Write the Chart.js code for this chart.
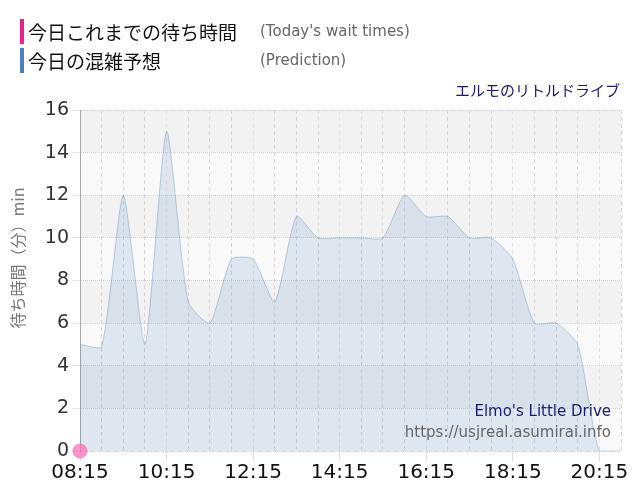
<!DOCTYPE html>
<html>
<head>
<meta charset="utf-8">
<script src="https://cdn.jsdelivr.net/npm/chart.js@4"></script>
<style>
  body { margin: 0; background: #fff; font-family: "Noto Sans CJK JP", "DejaVu Sans", sans-serif; }
  #wrap { position: relative; width: 640px; height: 500px; }
  canvas { position: absolute; left: 0; top: 0; }
  .lg { position: absolute; left: 20px; height: 25px; line-height: 25px; font-size: 19px; color: #111; padding-left: 8px; }
  .lg .bar { position: absolute; left: 0; top: 0; width: 4px; height: 25px; }
  .lg .en { position: absolute; left: 240px; top: 0; font-size: 15px; color: #666; font-family: "DejaVu Sans", sans-serif; white-space: nowrap; }
  .credit { position: absolute; right: 20px; top: 79px; font-size: 15px; color: #1c1c6c; }
</style>
</head>
<body>
<div id="wrap">
  <canvas id="c" width="640" height="500"></canvas>
  <div class="lg" style="top:19px"><span class="bar" style="background:#f01d8c"></span>今日これまでの待ち時間<span class="en">(Today's wait times)</span></div>
  <div class="lg" style="top:48px"><span class="bar" style="background:#4a82b4"></span>今日の混雑予想<span class="en">(Prediction)</span></div>
  <div class="credit">エルモのリトルドライブ</div>
</div>
<script>
// time slots every 30 minutes
var times = ["08:15","08:45","09:15","09:45","10:15","10:45","11:15","11:45","12:15","12:45",
             "13:15","13:45","14:15","14:45","15:15","15:45","16:15","16:45","17:15","17:45",
             "18:15","18:45","19:15","19:45","20:15","20:45"];
var prediction = [5, 4.9, 12, 5, 15, 7, 6, 9, 9, 7,
                  11, 10, 10, 10, 10, 12, 11, 11, 10, 10,
                  9, 6, 6, 5, 0, 0];
var actual = [0];
var yTicks = [0, 2, 4, 6, 8, 10, 12, 14, 16];

var bands = {
  id: "bands",
  beforeDraw: function (chart) {
    var a = chart.chartArea, y = chart.scales.y, ctx = chart.ctx;
    ctx.save();
    for (var i = 0; i < yTicks.length - 1; i++) {
      var top = y.getPixelForValue(yTicks[i + 1]);
      var bot = y.getPixelForValue(yTicks[i]);
      ctx.fillStyle = (i % 2 == 1) ? "#f2f2f2" : "#f9f9f9";
      ctx.fillRect(a.left, top, a.right - a.left, bot - top);
    }
    // y axis title, placed a bit above the middle like the original
    ctx.translate(18, 258);
    ctx.rotate(-Math.PI / 2);
    ctx.textAlign = "center";
    ctx.textBaseline = "middle";
    ctx.fillStyle = "#777";
    ctx.font = "16px 'Noto Sans CJK JP', sans-serif";
    ctx.fillText("待ち時間（分）min", 0, 0);
    ctx.restore();
  },
  afterDatasetsDraw: function (chart) {
    var a = chart.chartArea, ctx = chart.ctx;
    ctx.save();
    ctx.textAlign = "right";
    ctx.font = "15px 'DejaVu Sans', sans-serif";
    ctx.fillStyle = "#1c1c6c";
    ctx.fillText("Elmo's Little Drive", a.right - 10, 416);
    ctx.fillStyle = "#666";
    ctx.fillText("https://usjreal.asumirai.info", a.right - 10, 437);
    ctx.restore();
  }
};

new Chart(document.getElementById("c"), {
  type: "line",
  data: {
    labels: times,
    datasets: [
      {
        label: "今日これまでの待ち時間",
        data: actual,
        borderColor: "rgba(255,105,180,0.7)",
        backgroundColor: "rgba(255,105,180,0.7)",
        pointRadius: 7,
        showLine: false,
        clip: false
      },
      {
        label: "今日の混雑予想",
        data: prediction,
        borderColor: "rgba(70,130,180,0.35)",
        backgroundColor: "rgba(70,130,180,0.15)",
        borderWidth: 1,
        fill: "origin",
        pointRadius: 0,
        tension: 0.2
      }
    ]
  },
  plugins: [bands],
  options: {
    responsive: false,
    animation: false,
    layout: { padding: { top: 110, right: 19, left: 0, bottom: 15 } },
    plugins: { legend: { display: false }, tooltip: { enabled: false } },
    scales: {
      x: {
        grid: {
          color: function (c) { return c.index % 4 == 0 ? "#e4e4e4" : "#d6d6d6"; },
          drawTicks: true,
          tickLength: 10,
          tickColor: function (c) { return c.index % 4 == 0 ? "#e0e0e0" : "rgba(0,0,0,0)"; }
        },
        border: { display: false, dash: [4, 3] },
        ticks: {
          autoSkip: false,
          maxRotation: 0,
          color: "#111",
          padding: 0,
          font: { size: 20, family: "'DejaVu Sans', sans-serif" },
          callback: function (v, i) { return i % 4 == 0 ? times[i] : ""; }
        }
      },
      y: {
        min: 0,
        max: 16,
        afterFit: function (s) { s.width = 80; },
        grid: { color: "#d0d0d0", tickLength: 8, tickColor: "#e8e8e8" },
        border: { color: "#aaa", dash: [1, 1] },
        ticks: {
          stepSize: 2,
          color: "#333",
          font: { size: 19, family: "'DejaVu Sans', sans-serif" }
        }
      }
    }
  }
});
</script>
</body>
</html>
